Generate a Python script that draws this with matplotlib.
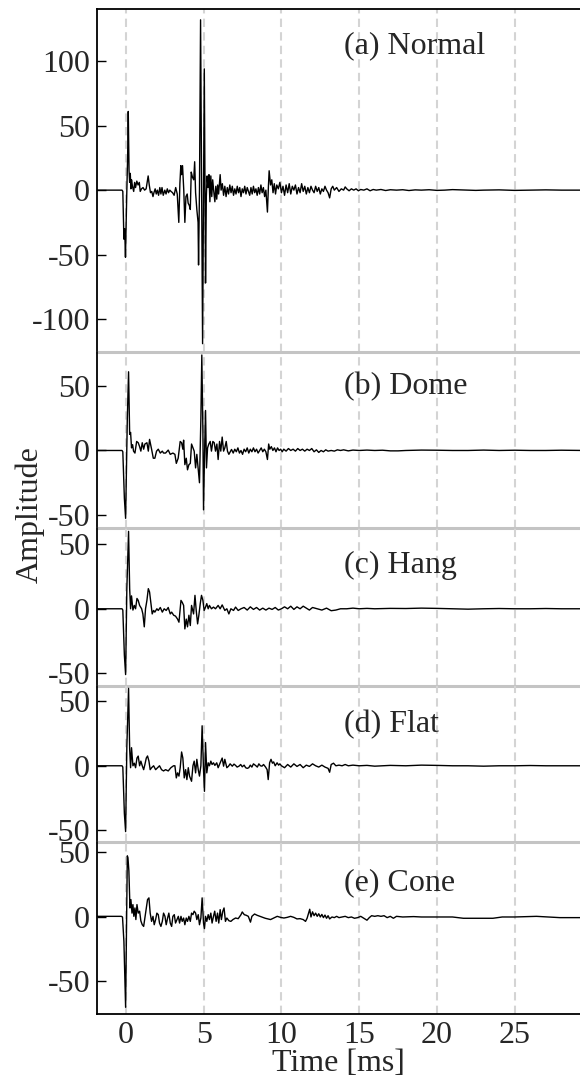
import matplotlib.pyplot as plt

plt.rcParams['font.family'] = ['Liberation Serif', 'DejaVu Serif']
plt.rcParams['axes.unicode_minus'] = False

# (time [ms], amplitude)
normal_trace = [
    (-1.9, 0), (-0.25, 0), (-0.2, -1), (-0.13, -38), (-0.08, -30), (-0.03, -52),
    (0.05, -5), (0.11, 26), (0.15, 61), (0.2, 15), (0.24, 6), (0.28, 13), (0.32, 1),
    (0.36, 8), (0.42, 3), (0.5, -1), (0.56, 6), (0.62, 2), (0.7, 7), (0.78, 4),
    (0.86, 6), (0.92, -1), (1.0, 1), (1.1, 2), (1.2, 0), (1.3, 1), (1.43, 11),
    (1.5, 4), (1.58, -2), (1.66, -1), (1.74, -5), (1.8, -2), (1.88, 1), (1.95, -3),
    (2.02, 0), (2.1, -4), (2.18, 2), (2.25, -3), (2.32, 2), (2.4, -4), (2.5, 0),
    (2.58, -3), (2.66, 1), (2.74, -2), (2.82, 0), (2.9, -1), (3.0, -2), (3.1, -4),
    (3.2, 2), (3.3, -3), (3.4, -25), (3.47, 5), (3.53, 19), (3.58, 12), (3.64, 19),
    (3.72, 0), (3.79, -25), (3.86, -5), (3.94, -3), (4.0, -10), (4.08, -12),
    (4.14, -15), (4.2, 14), (4.28, 10), (4.36, 8), (4.42, 22), (4.48, -2),
    (4.56, -15), (4.64, -25), (4.67, -58), (4.73, 0), (4.8, 132), (4.86, 20),
    (4.93, -119), (4.98, -20), (5.04, 94), (5.08, 10), (5.12, -72), (5.17, -5),
    (5.22, 11), (5.28, 2), (5.34, 12), (5.4, -9), (5.46, 11), (5.52, -5), (5.58, 8),
    (5.64, 0), (5.72, -9), (5.78, 3), (5.84, -7), (5.9, 4), (5.96, -3), (6.06, 12),
    (6.12, 0), (6.2, 5), (6.28, -4), (6.36, 3), (6.44, -5), (6.52, 2), (6.6, -3),
    (6.68, 4), (6.76, -2), (6.84, 3), (6.92, -4), (7.0, 1), (7.08, -3), (7.16, 3),
    (7.24, -2), (7.32, 2), (7.4, -5), (7.48, 1), (7.56, -2), (7.64, 3), (7.72, -3),
    (7.8, 2), (7.88, -1), (7.96, -4), (8.04, 2), (8.12, -3), (8.2, 3), (8.28, -2),
    (8.36, 1), (8.44, -4), (8.52, 2), (8.6, -3), (8.68, 4), (8.76, -2), (8.84, 2),
    (8.92, -5), (9.0, 0), (9.1, -17), (9.16, 2), (9.21, 15), (9.3, 4), (9.38, 8),
    (9.46, -2), (9.54, 5), (9.62, -3), (9.7, 4), (9.8, 1), (9.9, 6), (10.0, -2),
    (10.1, 3), (10.2, -4), (10.3, 4), (10.4, -2), (10.5, 5), (10.6, -3), (10.7, 3),
    (10.8, 0), (10.9, 4), (11.0, -3), (11.1, 2), (11.2, -2), (11.3, 5), (11.4, -1),
    (11.5, 3), (11.6, -3), (11.7, 2), (11.8, -2), (11.9, 3), (12.0, 0), (12.1, -2),
    (12.2, 3), (12.3, -1), (12.4, 2), (12.5, -3), (12.6, 1), (12.7, -1), (12.8, 3),
    (12.9, 0), (13.0, -2), (13.1, -6), (13.2, 1), (13.3, 3), (13.4, 0), (13.55, 2),
    (13.7, -1), (13.85, 1), (14.0, 0), (14.1, 2.5), (14.2, 1), (14.35, -0.5),
    (14.5, 1), (14.65, 0), (14.8, 1), (14.95, -0.5), (15.1, 0.5), (15.3, 0),
    (15.5, 1), (15.7, -0.5), (15.9, 0.5), (16.1, 0), (16.4, 0.5), (16.7, -0.3),
    (17.0, 0.3), (17.4, 0), (17.8, 0.3), (18.2, -0.3), (18.6, 0.2), (19.0, 0),
    (19.5, 0.3), (20.0, -0.2), (20.5, 0), (21.0, 0.4), (21.5, 0.2), (22.0, 0),
    (22.5, -0.2), (23.0, 0), (24.0, 0.2), (25.0, -0.2), (26.0, 0), (27.0, 0.2),
    (28.0, 0), (29.5, 0),
]

dome_trace = [
    (-1.9, 0), (-0.25, 0), (-0.2, -1), (-0.1, -37), (-0.02, -52.6), (0.09, 25),
    (0.17, 61), (0.24, 12.5), (0.3, 14), (0.36, 2), (0.43, 4.5), (0.49, -0.5),
    (0.58, -2), (0.69, 7), (0.79, 6), (0.88, 3), (0.96, -0.5), (1.05, 6), (1.14, 1),
    (1.22, 5), (1.35, 6), (1.44, -0.5), (1.52, 8.6), (1.65, 1), (1.76, -6),
    (1.86, -6), (1.97, -0.5), (2.08, 1), (2.21, -2), (2.34, -0.5), (2.42, -2),
    (2.55, -2), (2.72, 0.3), (2.85, -3), (3.02, -2), (3.15, -3), (3.24, -10),
    (3.36, -6), (3.49, 7), (3.58, 6), (3.66, 1), (3.71, 8), (3.79, -11), (3.88, -6),
    (3.96, -15), (4.05, -11), (4.14, -10), (4.22, 5), (4.31, 2), (4.39, -0.5),
    (4.48, -13.5), (4.56, -3), (4.65, -15), (4.73, -25), (4.82, 25), (4.88, 74),
    (4.95, 15), (4.99, -46), (5.06, 0), (5.12, 31), (5.18, -13.5), (5.25, 2),
    (5.33, 5), (5.42, 7), (5.5, -0.5), (5.59, 7), (5.68, 6), (5.76, -0.5), (5.85, 5),
    (5.93, -7), (6.02, 7), (6.1, -0.5), (6.19, 10.4), (6.28, -0.5), (6.36, 2),
    (6.45, 7), (6.53, -0.5), (6.62, -3), (6.79, 0.8), (6.9, -2), (7.0, 1), (7.1, -1),
    (7.2, 2), (7.3, -2), (7.4, 0), (7.5, -3), (7.6, 1), (7.7, -1), (7.8, 2),
    (7.9, -2), (8.0, 1), (8.1, -1), (8.2, 2), (8.3, -1), (8.4, 1), (8.5, -2),
    (8.6, 0), (8.7, 2), (8.8, -1), (8.9, 1), (9.0, -1), (9.1, -7), (9.18, 5),
    (9.25, 1), (9.35, 3), (9.45, 0), (9.55, 2), (9.65, -1), (9.75, 2), (9.85, 0),
    (9.95, 1), (10.05, -1), (10.15, 1), (10.3, -0.5), (10.45, 1.5), (10.6, 0),
    (10.75, 1), (10.9, -0.5), (11.05, 1.5), (11.2, 0), (11.35, 1), (11.5, -0.5),
    (11.65, 1), (11.8, 0), (11.95, 1.5), (12.1, -1), (12.25, 0.5), (12.4, -1.5),
    (12.55, 0), (12.7, -1), (12.85, 0.5), (13.0, -0.5), (13.2, 0), (13.4, -0.5),
    (13.6, 0.5), (13.8, 0), (14.0, 0.5), (14.3, -0.3), (14.6, 0.3), (15.0, 0),
    (15.5, 0.3), (16.0, 0), (16.5, 0.2), (17.0, -0.3), (17.5, -0.3), (18.0, 0),
    (19.0, 0.3), (20.0, 0.2), (21.0, 0), (22.0, 0), (23.0, 0.3), (24.0, 0),
    (25.0, 0.2), (26.0, 0), (27.0, 0), (28.0, 0.2), (29.5, 0),
]

hang_trace = [
    (-1.9, 0), (-0.25, 0), (-0.2, -1), (-0.1, -36), (-0.02, -51), (0.06, 16),
    (0.17, 60), (0.24, 15.6), (0.3, 0), (0.36, 10), (0.45, -1), (0.54, 2.6),
    (0.62, 0), (0.71, 8), (0.79, 6.5), (0.88, 2.6), (1.01, 0), (1.09, -4),
    (1.18, -14), (1.26, 0), (1.35, 6.5), (1.44, 15.6), (1.52, 13), (1.61, 4),
    (1.69, -4), (1.78, -1.3), (1.86, -2.6), (1.99, 0), (2.08, -1.3), (2.21, 1),
    (2.34, -2.6), (2.46, 0), (2.59, -1.3), (2.72, 1), (2.85, -4), (2.94, -2.6),
    (3.07, -5), (3.19, -5.7), (3.32, -8), (3.41, -10.4), (3.54, 6.5), (3.62, 5),
    (3.71, 2.6), (3.79, -15.6), (3.88, -8), (3.96, -14), (4.05, -5), (4.14, -13),
    (4.22, 2.6), (4.35, -4), (4.44, 10.4), (4.52, -1.3), (4.61, -11.7), (4.69, -5),
    (4.78, 4), (4.86, 10.4), (4.95, 6.5), (5.03, -1.3), (5.12, 1.3), (5.2, 4),
    (5.29, 0), (5.37, 2.6), (5.5, 0), (5.63, 1.3), (5.76, 0), (5.93, 2.6),
    (6.06, 0), (6.19, 3), (6.36, -1.3), (6.49, 0), (6.62, -4), (6.75, 0),
    (6.92, -1.3), (7.05, 1.3), (7.22, -1.3), (7.4, 0), (7.6, 1), (7.8, -1),
    (8.0, 1.5), (8.2, -0.5), (8.4, 1), (8.6, -1), (8.8, 0.5), (9.0, -1), (9.2, 0.5),
    (9.4, -0.5), (9.6, 1), (9.8, -1), (10.0, 0), (10.2, 1.5), (10.4, 0), (10.6, 2),
    (10.8, -0.5), (11.0, 1.5), (11.2, 0), (11.4, 2), (11.6, 0.5), (11.8, -1),
    (12.0, 1), (12.3, 0), (12.6, -1), (12.9, 0.5), (13.2, -1.5), (13.5, -1),
    (13.8, 0), (14.2, 0), (14.6, 0.5), (15.0, 0), (15.5, 0.3), (16.0, 0),
    (17.0, 0.3), (18.0, 0.2), (19.0, 0.5), (20.0, 0.3), (21.0, 0), (22.0, -0.3),
    (23.0, 0), (24.0, 0.2), (25.0, 0), (26.0, 0), (27.0, 0.2), (28.0, 0), (29.5, 0),
]

flat_trace = [
    (-1.9, 0), (-0.25, 0), (-0.2, -1), (-0.1, -37), (-0.02, -51), (0.06, 15),
    (0.17, 60), (0.24, 13), (0.3, -1.5), (0.36, 14), (0.45, 0), (0.54, 2),
    (0.62, -1.5), (0.71, 6), (0.79, 7.5), (0.88, 0), (0.96, 3.6), (1.05, 0),
    (1.14, -3), (1.22, 1), (1.31, 6), (1.39, 7.6), (1.48, 3.6), (1.56, -3),
    (1.65, -1.5), (1.78, 0), (1.91, -3), (2.04, -1.5), (2.16, 0), (2.29, -3),
    (2.42, -4), (2.55, -3), (2.72, -4), (2.89, -1.5), (3.06, 0), (3.15, 0),
    (3.24, -9.4), (3.32, -5.5), (3.41, -8), (3.49, -1.5), (3.58, 10.7), (3.66, 6),
    (3.75, -9.4), (3.84, -3), (3.92, -10.7), (4.01, -1.5), (4.09, -8), (4.22, -12),
    (4.31, 0), (4.39, 3.6), (4.48, -5.5), (4.56, 5), (4.65, -3), (4.73, -8),
    (4.82, 0), (4.9, 31), (4.99, -3), (5.05, -19.8), (5.12, 18), (5.2, -5.5),
    (5.29, 2.3), (5.37, 0), (5.46, 3.6), (5.54, 1), (5.63, 2.3), (5.72, 0.3),
    (5.84, 2.3), (5.93, -1.5), (6.06, 2.3), (6.19, 6), (6.28, -0.3), (6.36, 5),
    (6.49, -1.5), (6.6, -0.3), (6.7, 1.5), (6.84, -0.3), (6.95, 1.3), (7.05, 0.3),
    (7.15, -1), (7.27, -0.3), (7.38, 1), (7.48, -0.8), (7.6, 0.5), (7.7, -1.5),
    (7.8, -2), (7.9, -1.5), (8.0, 0.5), (8.1, -1), (8.2, 1.5), (8.33, 0.3),
    (8.45, -1), (8.55, 1.5), (8.65, 0), (8.75, -0.3), (8.85, 1), (8.98, -1),
    (9.08, -3), (9.15, -10.7), (9.24, 2.3), (9.33, 5), (9.42, 2), (9.5, 3),
    (9.6, 0), (9.72, 2.3), (9.82, 0.5), (9.9, 1.5), (10.0, 0), (10.2, -1.5),
    (10.4, 1), (10.6, -1), (10.8, 1.5), (11.0, -0.5), (11.2, 1), (11.4, -1.5),
    (11.6, 0.5), (11.8, -0.5), (12.0, 1.5), (12.2, 0), (12.4, -1), (12.6, 0.5),
    (12.8, -1), (13.0, -2), (13.1, -5), (13.2, 1), (13.35, 2), (13.5, 0),
    (13.7, 0.5), (13.9, 0), (14.1, 1), (14.3, 0), (14.6, 0.5), (15.0, 0),
    (15.5, 0.3), (16.0, -0.3), (17.0, 0.3), (18.0, 0), (19.0, 0.5), (20.0, 0.3),
    (21.0, 0), (22.0, 0), (23.0, -0.3), (24.0, 0), (25.0, 0), (26.0, 0.2),
    (27.0, 0), (28.0, 0), (29.5, 0),
]

cone_trace = [
    (-1.9, 0.5), (-0.3, 0.5), (-0.22, 0), (-0.13, -19), (-0.02, -70), (0.04, -5),
    (0.09, 47.4), (0.13, 46), (0.19, 35.7), (0.26, 7), (0.32, 13.5), (0.39, 3),
    (0.45, 9.6), (0.51, 0.5), (0.58, 7), (0.64, -2), (0.71, 9.6), (0.79, 3),
    (0.88, 4.5), (0.96, -3), (1.05, -6), (1.14, -7.3), (1.22, -0.8), (1.31, 7),
    (1.39, 13.5), (1.48, 14.8), (1.56, 3), (1.65, -3.4), (1.74, 0.5), (1.82, -6),
    (1.91, -2), (1.99, 3), (2.08, 1.8), (2.16, -4.7), (2.25, -7.3), (2.34, -3.4),
    (2.42, 3), (2.51, 0.5), (2.59, -6), (2.68, -0.8), (2.76, 3), (2.85, -4.7),
    (2.94, -7.3), (3.02, 0.5), (3.11, 1.8), (3.19, -4.7), (3.28, -2), (3.37, 0.5),
    (3.45, -4.7), (3.54, 0.5), (3.62, -3.4), (3.71, -0.8), (3.79, -6), (3.88, -0.8),
    (3.96, -3.4), (4.05, 0.5), (4.14, -3.4), (4.22, 3), (4.31, 1.8), (4.39, 4.5),
    (4.48, 3), (4.56, -2), (4.65, 1.8), (4.73, -6), (4.82, -0.8), (4.9, 14.8),
    (4.99, -4.7), (5.05, -9), (5.12, 0.5), (5.2, -3.4), (5.29, 1.8), (5.37, -2),
    (5.46, 3), (5.54, -4.7), (5.63, 0.5), (5.71, 4.5), (5.8, -3.4), (5.89, 3),
    (5.97, -4.7), (6.06, 5.7), (6.14, -2), (6.23, 4.5), (6.31, 7), (6.4, -3.4),
    (6.49, -0.8), (6.62, -2.9), (6.75, -3.4), (6.88, -2), (7.05, -0.8), (7.22, -1.3),
    (7.4, 1.8), (7.48, 3.9), (7.61, 1.8), (7.74, 1.3), (7.87, 0.5), (8.01, -4),
    (8.1, 0.5), (8.27, 2.3), (8.44, 1.3), (8.62, 0.5), (8.79, -0.3), (8.96, -1),
    (9.13, -1.5), (9.3, -2), (9.5, -0.8), (9.73, 0.5), (9.94, -0.3), (10.16, -0.8),
    (10.37, -0.3), (10.59, 0.5), (10.8, -0.3), (11.0, -1.5), (11.2, -1.3),
    (11.4, -2), (11.55, -3.4), (11.65, -1), (11.75, 3), (11.82, 6), (11.9, 0),
    (12.0, 4), (12.1, 1), (12.2, 3), (12.3, 0.5), (12.4, 2.5), (12.5, 0), (12.6, 2),
    (12.7, -0.5), (12.8, 1.5), (12.9, -1), (13.0, 1), (13.1, -1.5), (13.25, 0),
    (13.4, -0.5), (13.55, 0.5), (13.7, -0.5), (13.9, 0), (14.1, 0.5), (14.3, -0.5),
    (14.5, 0), (14.7, -1), (14.9, -0.5), (15.1, 0.5), (15.3, -1), (15.5, -2.5),
    (15.65, -0.5), (15.8, 1), (16.0, 0.5), (16.2, 1), (16.4, 0.5), (16.6, 1),
    (16.8, -0.5), (17.0, 0.5), (17.2, -1), (17.4, 0.5), (17.8, 0), (18.5, 0.3),
    (19.0, 0), (20.0, 0), (21.0, 0), (21.7, -1), (22.5, -1), (23.6, -1),
    (24.2, 0), (25.0, 0), (26.4, 0.5), (27.2, 0), (27.9, -0.5), (29.5, -0.5),
]

traces = [normal_trace, dome_trace, hang_trace, flat_trace, cone_trace]
panel_labels = ['(a) Normal', '(b) Dome', '(c) Hang', '(d) Flat', '(e) Cone']
y_limits = [(-125.2, 140.4), (-60.2, 76.6), (-60.2, 62.5), (-58.8, 61.5), (-75.2, 58.4)]
y_ticks = [[-100, -50, 0, 50, 100], [-50, 0, 50], [-50, 0, 50], [-50, 0, 50], [-50, 0, 50]]
x_ticks = [0, 5, 10, 15, 20, 25]
x_limits = (-1.86, 29.2)
label_offsets_px = [37, 35, 37, 38, 41]

W, H = 580, 1079
fig = plt.figure(figsize=(W / 100, H / 100), dpi=100)
top, bottom = 1 - 9 / H, 1 - 1014 / H
heights = [hi - lo for lo, hi in y_limits]
gs = fig.add_gridspec(5, 1, height_ratios=heights, left=97 / W, right=1.0,
                      top=top, bottom=bottom, hspace=0)

text_color = '#262626'
sep_color = '#c4c4c4'
total_px = (top - bottom) * H

for i, trace in enumerate(traces):
    ax = fig.add_subplot(gs[i])
    ax.patch.set_visible(False)  # keep the grey separator from being covered
    t = [p[0] for p in trace]
    amp = [p[1] for p in trace]

    for xv in x_ticks:
        ax.axvline(xv, color='#d4d4d4', lw=1.5, dashes=(4, 2.5), zorder=1)
    ax.plot(t, amp, color='black', lw=1.0, zorder=3)

    ax.set_xlim(*x_limits)
    ax.set_ylim(*y_limits[i])
    ax.set_yticks(y_ticks[i])
    ax.set_xticks(x_ticks)

    ax.tick_params(axis='y', direction='in', length=6.5, width=1.0, pad=5,
                   labelsize=23, labelcolor=text_color)
    ax.tick_params(axis='x', length=0, pad=5, labelsize=23, labelcolor=text_color,
                   labelbottom=(i == 4))

    ax.spines['right'].set_visible(False)
    ax.spines['left'].set_linewidth(1.3)
    if i == 0:
        ax.spines['top'].set_linewidth(1.3)
    else:
        ax.spines['top'].set_visible(False)
    if i == 4:
        ax.spines['bottom'].set_linewidth(1.3)
        ax.set_xlabel('Time [ms]', fontsize=23, color=text_color, labelpad=-1)
    else:
        ax.spines['bottom'].set_color(sep_color)
        ax.spines['bottom'].set_linewidth(2.2)
        ax.spines['bottom'].set_zorder(5)

    panel_px = total_px * heights[i] / sum(heights)
    ax.text(247 / 483, 1 - label_offsets_px[i] / panel_px, panel_labels[i],
            transform=ax.transAxes, ha='left', va='center', fontsize=23,
            color=text_color, zorder=4)

fig.text(30 / W, 1 - 515 / H, 'Amplitude', rotation=90, ha='center', va='center',
         fontsize=23, color=text_color)

fig.savefig('out.png', dpi=100)
